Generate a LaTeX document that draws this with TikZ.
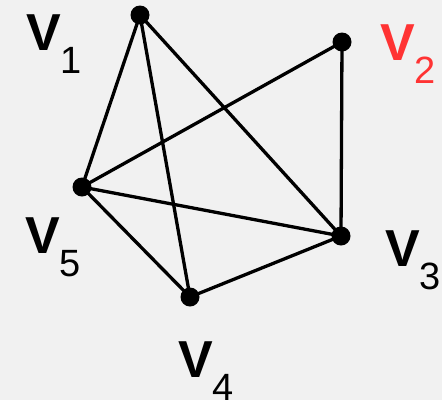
\documentclass[tikz,border=0pt]{standalone}
\usepackage{fontspec}
\setmainfont{Liberation Sans}
\usetikzlibrary{positioning}

\definecolor{bgray}{RGB}{241,241,241}
\definecolor{vred}{RGB}{255,51,51}

\newcommand{\vlab}[1]{{\fontsize{52}{52}\selectfont\bfseries V}\raisebox{-23pt}{\fontsize{38}{38}\selectfont #1}}

\begin{document}
\begin{tikzpicture}[
        x=1pt, y=-1pt,
        vertex/.style={circle, fill=black, inner sep=0pt, minimum size=19pt},
        vname/.style={anchor=base west, inner sep=0pt},
        edge/.style={draw=black, line width=3.3pt}
    ]

    \fill[bgray] (0,0) rectangle (442,400);
    \useasboundingbox (0,0) rectangle (442,400);

    \node[vertex] (v1) at (140,15)  {};
    \node[vertex] (v2) at (342,42)  {};
    \node[vertex] (v3) at (341,236) {};
    \node[vertex] (v4) at (190,297) {};
    \node[vertex] (v5) at (82,187)  {};

    \draw[edge] (v1.center) -- (v5.center);
    \draw[edge] (v1.center) -- (v4.center);
    \draw[edge] (v1.center) -- (v3.center);
    \draw[edge] (v2.center) -- (v5.center);
    \draw[edge] (v2.center) -- (v3.center);
    \draw[edge] (v5.center) -- (v3.center);
    \draw[edge] (v5.center) -- (v4.center);
    \draw[edge] (v4.center) -- (v3.center);

    \node[vname] (l1) at (26,50)   {\vlab{1}};
    \node[vname, text=vred] (l2) at (380,60) {\vlab{2}};
    \node[vname] (l3) at (385,266) {\vlab{3}};
    \node[vname] (l4) at (178,377) {\vlab{4}};
    \node[vname] (l5) at (25,253)  {\vlab{5}};

\end{tikzpicture}
\end{document}
